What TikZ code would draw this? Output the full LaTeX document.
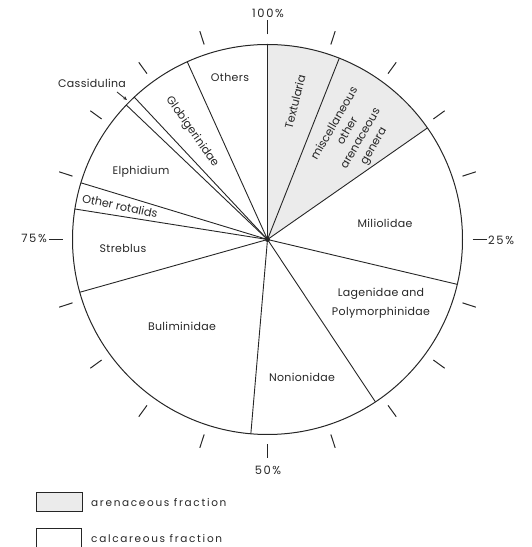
\documentclass[tikz,border=0pt]{standalone}
\usepackage{fontspec}
\setmainfont{Poppins}
\usetikzlibrary{arrows.meta}
\begin{document}
\begin{tikzpicture}[x=1pt,y=1pt,
  lbl/.style={font=\fontsize{11}{13}\selectfont\addfontfeature{LetterSpace=3}, inner sep=0pt, text=black!85},
  rlbl/.style={font=\fontsize{11.3}{13}\selectfont, inner sep=0pt, text=black!85},
  pct/.style={font=\fontsize{11.5}{13}\selectfont\addfontfeature{LetterSpace=14}, inner sep=0pt, text=black!85},
  leg/.style={font=\fontsize{10.5}{12}\selectfont\addfontfeature{LetterSpace=16}, inner sep=0pt, anchor=west, text=black!85},
  sliceline/.style={line width=0.9pt, black!85},
  rim/.style={line width=1pt, black!85},
  tickmark/.style={line width=1pt, black!85},
  arenfill/.style={fill=black!8},
  legbox/.style={draw=black!85, line width=1pt}]
\useasboundingbox (0,0) rectangle (532,547);
\def\R{195}
\coordinate (C) at (267.5,307.5);
\begin{scope}[shift={(C)}]
  \fill[arenfill] (0,0) -- (90:\R) arc[start angle=90,end angle=34.9,radius=\R] -- cycle;
  \foreach \a in {90,68.4,34.9,-13.3,-56.4,-94.9,195.7,171,163.1,136.4,133.1,114.3}
    \draw[sliceline] (0,0) -- (\a:\R);
  \draw[rim] (0,0) circle[radius=\R];
  \foreach \k in {0,...,19}
    \draw[tickmark] (90-18*\k:205) -- (90-18*\k:219);
  \fill[black!85] (0,0) circle[radius=2.5];
\end{scope}

% slice labels
\node[lbl] (others) at (230,470) {Others};
\node[rlbl, rotate=76] (textularia) at (295,445) {Textularia};
\node[rlbl, rotate=60, align=center, font=\fontsize{11.3}{15}\selectfont] (misc) at (354.5,412) {miscellaneous\\other\\arenaceous\\genera};
\node[lbl] (milio) at (385,324) {Miliolidae};
\node[lbl, align=center, font=\fontsize{11}{19}\selectfont\addfontfeature{LetterSpace=3}] (lagen) at (381,243.5) {Lagenidae and\\Polymorphinidae};
\node[lbl] (nonion) at (302,170) {Nonionidae};
\node[lbl] (bulim) at (182,221) {Buliminidae};
\node[lbl] (streb) at (123,299) {Streblus};
\node[rlbl, rotate=-12] (otherrot) at (120,341) {Other rotalids};
\node[lbl] (elph) at (141,375) {Elphidium};
\node[rlbl, rotate=-55] (globig) at (192,415) {Globigerinidae};
\node[lbl] (cass) at (92,464) {Cassidulina};
\coordinate (cassA) at (117,455);
\coordinate (cassTip) at (127,447);
\draw[line width=0.8pt, black!85, -{Stealth[length=4pt,width=3.5pt]}] (cassA) -- (cassTip);

% percentage labels
\node[pct] (p100) at (268,534) {100\%};
\node[pct, anchor=west] (p25) at (488,307) {25\%};
\node[pct, anchor=east] (p75) at (47,309) {75\%};
\node[pct] (p50) at (268,77) {50\%};

% legend
\draw[legbox, fill=black!8] (36,35) rectangle (82,54);
\node[leg] (legA) at (91,44) {arenaceous fraction};
\draw[legbox] (36,-5) -- (36,18) -- (81,18) -- (81,-5);
\node[leg] (legC) at (91,8) {calcareous fraction};
\end{tikzpicture}
\end{document}
